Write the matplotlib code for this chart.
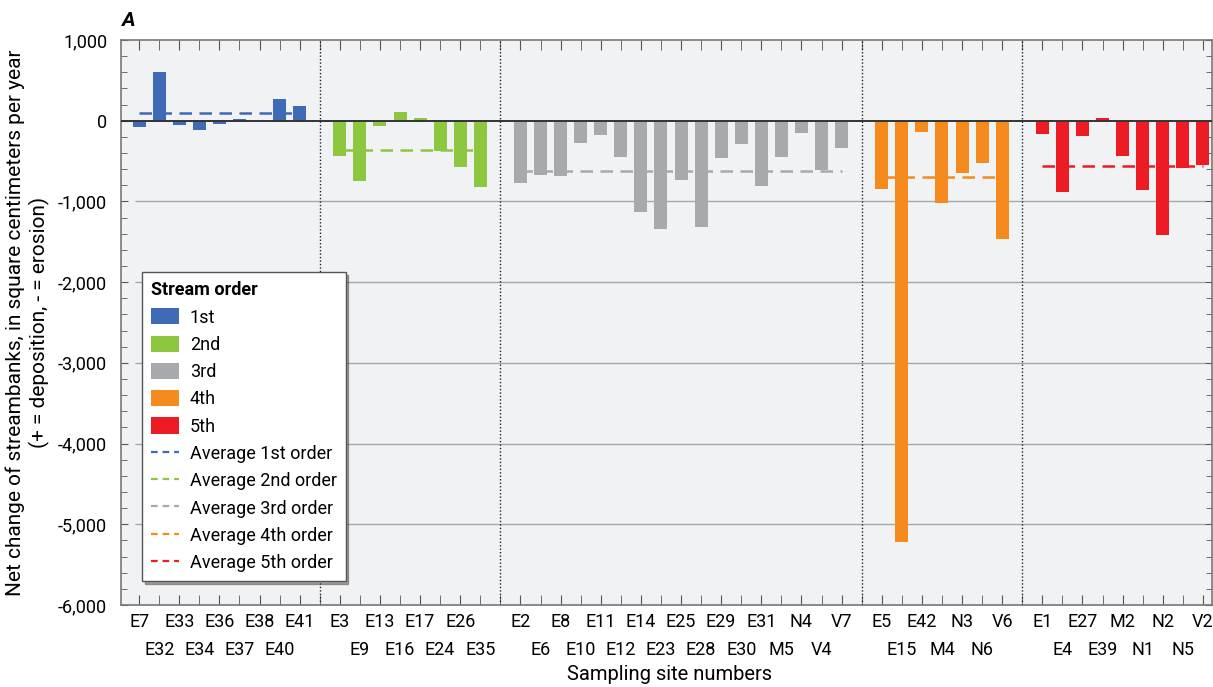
import matplotlib.pyplot as plt
from matplotlib.lines import Line2D
from matplotlib.patches import Patch
from matplotlib.ticker import FixedFormatter, FixedLocator, FuncFormatter, MultipleLocator

plt.rcParams['font.family'] = ['Roboto', 'DejaVu Sans']

# net change per site, grouped by stream order (cm^2 / yr)
sites_1st = ['E7', 'E32', 'E33', 'E34', 'E36', 'E37', 'E38', 'E40', 'E41']
change_1st = [-78, 609, -53, -115, -41, 16, 2, 263, 177]

sites_2nd = ['E3', 'E9', 'E13', 'E16', 'E17', 'E24', 'E26', 'E35']
change_2nd = [-436, -745, -66, 103, 29, -374, -572, -819]

sites_3rd = ['E2', 'E6', 'E8', 'E10', 'E11', 'E12', 'E14', 'E23', 'E25',
             'E28', 'E29', 'E30', 'E31', 'M5', 'N4', 'V4', 'V7']
change_3rd = [-770, -671, -683, -276, -177, -449, -1128, -1337, -733,
              -1313, -461, -288, -807, -449, -152, -609, -337]

sites_4th = ['E5', 'E15', 'E42', 'M4', 'N3', 'N6', 'V6']
change_4th = [-844, -5220, -140, -1016, -646, -523, -1461]

sites_5th = ['E1', 'E4', 'E27', 'E39', 'M2', 'N1', 'N2', 'N5', 'V2']
change_5th = [-165, -881, -189, 29, -436, -856, -1412, -584, -547]

order_names = ['1st', '2nd', '3rd', '4th', '5th']
order_avg = [91, -358, -626, -700, -560]
order_colors = ['#3f6ab5', '#8dc63f', '#a7a9ac', '#f58a1f', '#ed1c24']

all_sites = [sites_1st, sites_2nd, sites_3rd, sites_4th, sites_5th]
all_change = [change_1st, change_2nd, change_3rd, change_4th, change_5th]

fig = plt.figure(figsize=(12.13, 6.87), dpi=100)
ax = fig.add_axes([0.0998, 0.1194, 0.8993, 0.8224])
ax.set_facecolor('#f1f2f4')

# two label rows: even sites on the upper row, odd sites (and separators) on the lower
top_pos, top_lab, low_pos, low_lab, seps = [], [], [], [], []
pos = 0
for k, (sites, vals) in enumerate(zip(all_sites, all_change)):
    color = order_colors[k]
    x = list(range(pos, pos + len(sites)))
    ax.bar(x, vals, width=0.65, color=color, zorder=3)
    ax.plot([x[0], x[-1]], [order_avg[k]] * 2, ls=(0, (5, 3)), color=color,
            lw=1.8, zorder=4)
    for i, s in enumerate(sites):
        if i % 2 == 0:
            top_pos.append(x[i])
            top_lab.append(s)
        else:
            low_pos.append(x[i])
            low_lab.append(s)
    pos += len(sites)
    if k < len(all_sites) - 1:
        seps.append(pos)
        low_pos.append(pos)
        low_lab.append('')
        pos += 1

last = pos - 1
ax.set_xlim(-0.9, last + 0.45)
ax.set_ylim(-6000, 1000)

# grid, zero line and group separators
grid_y = [-5000, -4000, -3000, -2000, -1000]
ax.hlines(grid_y, -0.2, last + 0.1, color='#a6a6a6', lw=1, zorder=1)
ax.axhline(0, color='#333333', lw=1.4, zorder=5)
for s in seps:
    ax.axvline(s, color='#222222', ls=(0, (1, 1.5)), lw=1, zorder=2)

ax.xaxis.set_major_locator(FixedLocator(top_pos))
ax.xaxis.set_major_formatter(FixedFormatter(top_lab))
ax.xaxis.set_minor_locator(FixedLocator(low_pos))
ax.xaxis.set_minor_formatter(FixedFormatter(low_lab))
ax.tick_params(axis='x', which='both', direction='in', top=True, bottom=True,
               length=7, labelsize=13, color='#555555')
ax.tick_params(axis='x', which='major', pad=6)
ax.tick_params(axis='x', which='minor', pad=26)

ax.yaxis.set_major_locator(MultipleLocator(1000))
ax.yaxis.set_minor_locator(MultipleLocator(200))
ax.yaxis.set_major_formatter(FuncFormatter(lambda v, _: f'{int(v):,}'))
ax.tick_params(axis='y', which='both', direction='in', left=True, right=True,
               labelsize=13, pad=10, color='#555555')
ax.tick_params(axis='y', which='major', length=5)
ax.tick_params(axis='y', which='minor', length=4)
for sp in ax.spines.values():
    sp.set_color('#777777')
    sp.set_linewidth(1.2)

fig.text(0.552, 0.0175, 'Sampling site numbers', fontsize=14.5,
         ha='center', va='center')
ax.set_ylabel('Net change of streambanks, in square centimeters per year\n'
              '(+ = deposition, - = erosion)', fontsize=15, labelpad=6)
fig.text(0.100, 0.97, 'A', fontsize=15, fontweight='bold', style='italic',
         va='center')

handles = [Patch(facecolor=c) for c in order_colors]
handles += [Line2D([], [], color=c, ls=(0, (3, 2.2)), lw=1.6) for c in order_colors]
labels = order_names + [f'Average {n} order' for n in order_names]
leg = ax.legend(handles, labels, loc='upper left', bbox_to_anchor=(0.019, 0.589),
                borderaxespad=0, title='Stream order', fontsize=13,
                title_fontsize=13, alignment='left', frameon=True,
                fancybox=False, shadow=True, handlelength=1.55, handleheight=1.0,
                labelspacing=0.5, handletextpad=0.6, borderpad=0.5, framealpha=1)
leg.get_title().set_fontweight('bold')
leg.get_frame().set_edgecolor('#555555')
leg.get_frame().set_linewidth(1)
leg.set_zorder(10)

fig.savefig('out.png', dpi=100, facecolor='white')
